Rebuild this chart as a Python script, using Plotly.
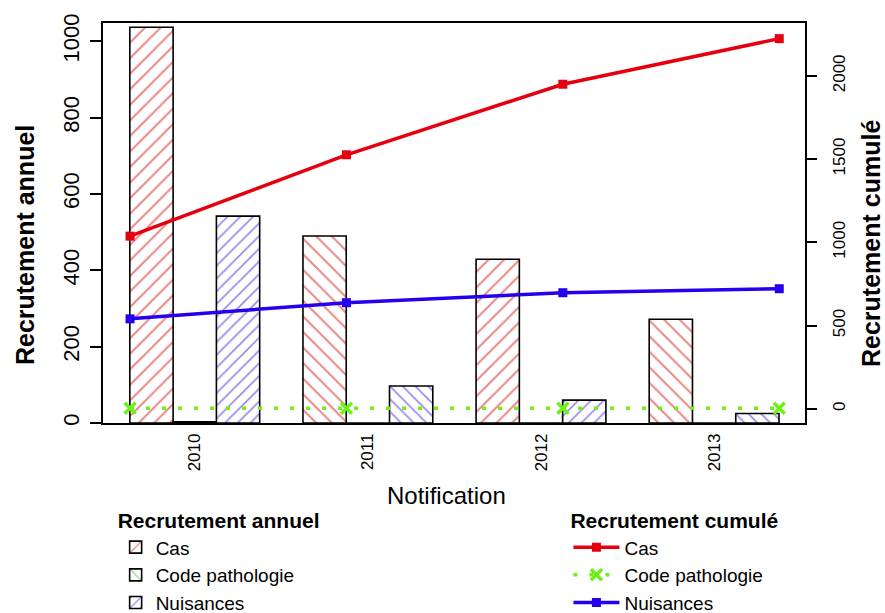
import plotly.graph_objects as go

# Years of notification
years = ["2010", "2011", "2012", "2013"]
year_nums = [2010, 2011, 2012, 2013]

# Annual recruitment (left axis, bars)
annuel_cas = [1037, 490, 429, 272]
annuel_code = [3, 0, 0, 0]
annuel_nuis = [542, 97, 60, 25]

# Cumulative recruitment (right axis, lines)
cumul_cas = [1037, 1526, 1950, 2224]
cumul_code = [3, 3, 3, 3]
cumul_nuis = [540, 637, 697, 721]

left_ticks = [0, 200, 400, 600, 800, 1000]
right_ticks = [0, 500, 1000, 1500, 2000]

RED = "#e6000f"
GREEN = "#6ef01a"
BLUE = "#2400ee"
HATCH_RED = "#d80f0f"
HATCH_GREEN = "#22c822"
HATCH_BLUE = "#2a14d8"
FONT = "Liberation Sans, Arial, sans-serif"

hatch_a = ["/", "\\", "/", "\\"]
hatch_b = ["\\", "/", "\\", "/"]


def bar_marker(fg, shapes, size):
    return dict(
        color="white",
        line=dict(color="black", width=1.6),
        pattern=dict(shape=shapes, fgcolor=fg, bgcolor="white",
                     size=size, solidity=0.18),
    )


fig = go.Figure()

fig.add_trace(go.Bar(x=years, y=annuel_cas, name="Cas", legend="legend",
                     marker=bar_marker(HATCH_RED, hatch_a, 11)))
fig.add_trace(go.Bar(x=years, y=annuel_code, name="Code pathologie", legend="legend",
                     marker=bar_marker(HATCH_GREEN, hatch_b, 10)))
fig.add_trace(go.Bar(x=years, y=annuel_nuis, name="Nuisances", legend="legend",
                     marker=bar_marker(HATCH_BLUE, hatch_a, 9)))

fig.add_trace(go.Scatter(
    x=year_nums, y=cumul_cas, name="Cas", legend="legend2",
    xaxis="x2", yaxis="y2", mode="lines+markers",
    line=dict(color=RED, width=3.5),
    marker=dict(symbol="square", size=9, color=RED),
))
fig.add_trace(go.Scatter(
    x=year_nums, y=cumul_code, name="Code pathologie", legend="legend2",
    xaxis="x2", yaxis="y2", mode="lines+markers",
    line=dict(color=GREEN, width=3.5, dash="4px,12px"),
    marker=dict(symbol="x-thin", size=11, color=GREEN,
                line=dict(color=GREEN, width=3.5)),
))
fig.add_trace(go.Scatter(
    x=year_nums, y=cumul_nuis, name="Nuisances", legend="legend2",
    xaxis="x2", yaxis="y2", mode="lines+markers",
    line=dict(color=BLUE, width=3.5),
    marker=dict(symbol="square", size=9, color=BLUE),
))

axis_common = dict(showgrid=False, zeroline=False, color="black")

fig.update_layout(
    width=885, height=613,
    margin=dict(l=103, r=80, t=23, b=190, autoexpand=False),
    paper_bgcolor="white", plot_bgcolor="white",
    font=dict(family=FONT, color="black"),
    barmode="group", bargap=0.25, bargroupgap=0,
    xaxis=dict(
        type="category", range=[-0.53, 3.525],
        tickangle=-90, ticks="", tickfont=dict(size=17),
        ticklabelstandoff=2,
        showline=True, mirror=True, linecolor="black", linewidth=1.5,
        **axis_common,
    ),
    xaxis2=dict(overlaying="x", anchor="y2", range=[2009.875, 2013.119],
                visible=False),
    yaxis=dict(
        range=[0, 1048], tickvals=left_ticks, tickangle=-90,
        ticks="outside", ticklen=11, tickwidth=1.5, tickcolor="black",
        tickfont=dict(size=22), ticklabelstandoff=2,
        showline=True, mirror=True, linecolor="black", linewidth=1.5,
        **axis_common,
    ),
    yaxis2=dict(
        overlaying="y", side="right", anchor="x2",
        range=[-86, 2318], tickvals=right_ticks, tickangle=-90,
        ticks="outside", ticklen=11, tickwidth=1.5, tickcolor="black",
        tickfont=dict(size=17), ticklabelstandoff=8, showline=False,
        **axis_common,
    ),
    legend=dict(
        title=dict(text="<b>Recrutement annuel</b>", font=dict(size=21), side="top"),
        font=dict(size=19), x=0.018, y=-0.195, xanchor="left", yanchor="top",
        bgcolor="rgba(0,0,0,0)", tracegroupgap=0, traceorder="normal",
        itemwidth=30,
    ),
    legend2=dict(
        title=dict(text="<b>Recrutement cumulé</b>", font=dict(size=21), side="top"),
        font=dict(size=19), x=0.663, y=-0.195, xanchor="left", yanchor="top",
        bgcolor="rgba(0,0,0,0)", tracegroupgap=0, traceorder="normal",
        itemwidth=46,
    ),
    annotations=[
        dict(text="<b>Recrutement annuel</b>", xref="paper", yref="paper",
             x=-0.111, y=0.445, textangle=-90, showarrow=False,
             font=dict(size=25), xanchor="center", yanchor="middle"),
        dict(text="<b>Recrutement cumulé</b>", xref="paper", yref="paper",
             x=1.094, y=0.45, textangle=-90, showarrow=False,
             font=dict(size=25), xanchor="center", yanchor="middle"),
        dict(text="Notification", xref="paper", yref="paper",
             x=0.49, y=-0.18, showarrow=False,
             font=dict(size=24), xanchor="center", yanchor="middle"),
    ],
)

fig.write_html("out.html")
